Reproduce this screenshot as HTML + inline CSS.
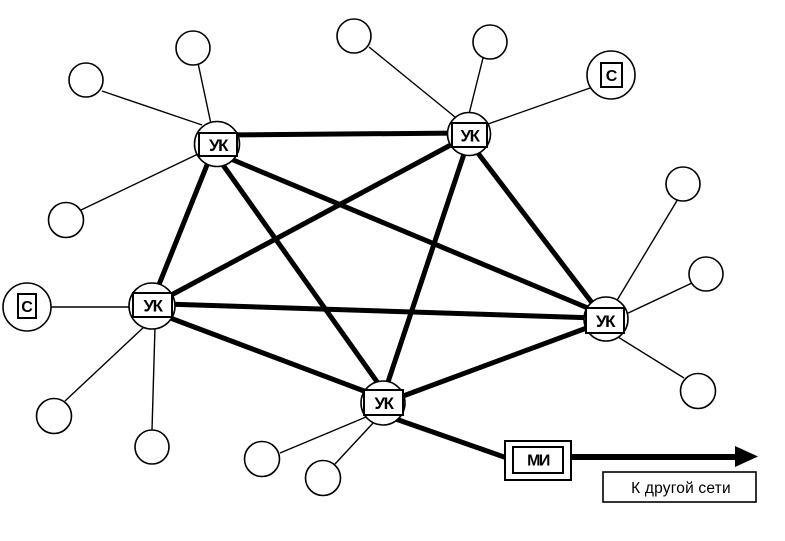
<!DOCTYPE html>
<html>
<head>
<meta charset="utf-8">
<style>
html,body{margin:0;padding:0;background:#fff;}
svg{display:block;}
text{font-family:"Liberation Sans","DejaVu Sans",sans-serif;}
</style>
</head>
<body>
<svg width="785" height="541" viewBox="0 0 785 541" xmlns="http://www.w3.org/2000/svg">
<rect width="785" height="541" fill="#fff"/>
<!-- thin lines -->
<g stroke="#000" stroke-width="1.4" fill="none">
<line x1="198" y1="63" x2="211" y2="124"/>
<line x1="102" y1="91" x2="202" y2="125"/>
<line x1="81" y1="210" x2="198" y2="154"/>
<line x1="369" y1="47" x2="455" y2="117"/>
<line x1="483" y1="58" x2="469" y2="114"/>
<line x1="590" y1="88" x2="488" y2="124"/>
<line x1="50" y1="307" x2="132" y2="307"/>
<line x1="145" y1="326" x2="65" y2="401"/>
<line x1="155" y1="327" x2="152" y2="430"/>
<line x1="616" y1="302" x2="678" y2="199"/>
<line x1="624" y1="315" x2="692" y2="283"/>
<line x1="618" y1="337" x2="684" y2="378"/>
<line x1="366" y1="417" x2="280" y2="453"/>
<line x1="374" y1="422" x2="335" y2="464"/>
</g>
<!-- thick lines -->
<g stroke="#000" stroke-width="5" fill="none">
<line x1="220" y1="135" x2="466" y2="133"/>
<line x1="211" y1="155" x2="156" y2="292"/>
<line x1="218" y1="158" x2="380" y2="386"/>
<line x1="226" y1="157" x2="595" y2="311"/>
<line x1="460" y1="140" x2="162" y2="300"/>
<line x1="466" y1="148" x2="386" y2="388"/>
<line x1="474" y1="148" x2="596" y2="308"/>
<line x1="165" y1="304" x2="596" y2="318"/>
<line x1="165" y1="316" x2="372" y2="394"/>
<line x1="395" y1="399" x2="592" y2="326"/>
<line x1="390" y1="417" x2="507" y2="458"/>
<line x1="571" y1="457" x2="738" y2="457" stroke-width="6"/>
</g>
<polygon points="735,446 758,456.5 735,467" fill="#000"/>
<!-- satellite circles -->
<g stroke="#000" stroke-width="1.6" fill="#fff">
<circle cx="193" cy="48" r="17"/>
<circle cx="86" cy="80" r="17"/>
<circle cx="66" cy="220" r="17.5"/>
<circle cx="354" cy="36" r="17"/>
<circle cx="490" cy="42" r="17"/>
<circle cx="683" cy="184" r="17"/>
<circle cx="706" cy="274" r="17"/>
<circle cx="698" cy="391" r="17.5"/>
<circle cx="54" cy="416" r="17.5"/>
<circle cx="152" cy="447" r="17"/>
<circle cx="262" cy="459" r="17.5"/>
<circle cx="323" cy="478" r="17.5"/>
<circle cx="611" cy="75" r="24"/>
<circle cx="27" cy="307" r="24"/>
</g>
<!-- C boxes -->
<g stroke="#000" stroke-width="2" fill="#fff">
<rect x="601" y="63" width="21" height="24"/>
<rect x="18" y="294" width="18" height="24"/>
</g>
<g font-weight="bold" font-size="16" text-anchor="middle">
<text x="611.5" y="81">С</text>
<text x="27" y="312">С</text>
</g>
<!-- UK nodes -->
<g stroke="#000" stroke-width="1.6" fill="#fff">
<circle cx="217" cy="144" r="22.5"/>
<circle cx="469" cy="134" r="21.5"/>
<circle cx="152" cy="306" r="23"/>
<circle cx="606" cy="319" r="22"/>
<circle cx="383" cy="403" r="22"/>
</g>
<g stroke="#000" stroke-width="2" fill="#fff">
<rect x="199" y="133" width="38" height="23"/>
<rect x="452" y="123" width="35" height="24"/>
<rect x="133" y="293" width="39" height="24"/>
<rect x="586" y="308" width="38" height="25"/>
<rect x="364" y="390" width="39" height="25"/>
</g>
<g font-weight="bold" font-size="17" text-anchor="middle" letter-spacing="-1.5">
<text x="218" y="151">УК</text>
<text x="469.5" y="141.5">УК</text>
<text x="152.5" y="311.5">УК</text>
<text x="605" y="327">УК</text>
<text x="383.5" y="409">УК</text>
</g>
<!-- MI -->
<rect x="505" y="441" width="66" height="39" fill="#fff" stroke="#000" stroke-width="2"/>
<rect x="513" y="447" width="50" height="26" fill="#fff" stroke="#000" stroke-width="2"/>
<text x="538" y="465.5" font-weight="bold" font-size="16" text-anchor="middle" letter-spacing="-1.5">МИ</text>
<!-- К другой сети -->
<rect x="603" y="472" width="153" height="30" fill="#fff" stroke="#000" stroke-width="1.6"/>
<text x="681" y="493" font-size="15.5" text-anchor="middle" letter-spacing="0.2">К другой сети</text>
</svg>
</body>
</html>
